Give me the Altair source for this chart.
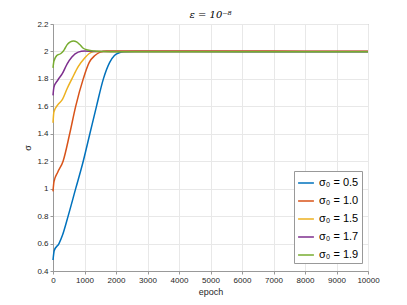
import altair as alt
import pandas as pd

labels = ["σ₀ = 0.5", "σ₀ = 1.0", "σ₀ = 1.5", "σ₀ = 1.7", "σ₀ = 1.9"]
colors = ["#0072BD", "#D95319", "#EDB120", "#7E2F8E", "#77AC30"]

blue_x = [0, 40, 190, 300, 480, 720, 960, 1170, 1380, 1600, 1800, 1950, 2100, 2250, 2600, 4000, 6000, 8000, 10000]
blue_y = [0.48, 0.55, 0.60, 0.66, 0.80, 1.00, 1.20, 1.40, 1.60, 1.80, 1.92, 1.97, 1.99, 1.998, 2.0, 1.999, 1.998, 1.998, 1.998]

orange_x = [0, 30, 150, 320, 530, 720, 960, 1150, 1330, 1500, 1700, 2000, 4000, 6000, 8000, 10000]
orange_y = [0.98, 1.05, 1.12, 1.20, 1.40, 1.60, 1.80, 1.92, 1.97, 1.995, 2.003, 2.004, 2.003, 2.003, 2.002, 2.002]

yellow_x = [0, 30, 150, 300, 450, 600, 800, 1000, 1150, 1300, 1500, 3000, 6000, 10000]
yellow_y = [1.48, 1.56, 1.61, 1.65, 1.73, 1.80, 1.89, 1.95, 1.985, 2.0, 2.0, 2.0, 1.999, 1.999]

purple_x = [0, 30, 150, 300, 450, 600, 800, 1000, 1300, 2000, 5000, 10000]
purple_y = [1.68, 1.74, 1.79, 1.84, 1.91, 1.96, 1.995, 2.003, 2.0, 2.0, 1.999, 1.999]

green_x = [0, 30, 120, 250, 350, 450, 550, 650, 750, 850, 950, 1100, 1300, 1600, 2000, 5000, 10000]
green_y = [1.88, 1.93, 1.97, 1.985, 2.01, 2.05, 2.07, 2.077, 2.07, 2.05, 2.025, 2.01, 2.003, 2.0, 1.998, 1.997, 1.997]

series = [(blue_x, blue_y), (orange_x, orange_y), (yellow_x, yellow_y), (purple_x, purple_y), (green_x, green_y)]

rows = []
for lab, (xs, ys) in zip(labels, series):
    for x, y in zip(xs, ys):
        rows.append({"epoch": x, "sigma": y, "series": lab})
df = pd.DataFrame(rows)

font = "Liberation Sans"

chart = alt.Chart(df).mark_line(strokeWidth=1.5, interpolate="monotone").encode(
    x=alt.X("epoch:Q", scale=alt.Scale(domain=[0, 10000], nice=False),
            axis=alt.Axis(title="epoch", values=list(range(0, 10001, 1000)), format="d",
                          labelFlush=False, titleFontSize=9, titleFontWeight="normal", titlePadding=3)),
    y=alt.Y("sigma:Q", scale=alt.Scale(domain=[0.4, 2.2], nice=False, zero=False),
            axis=alt.Axis(title="σ", values=[0.4, 0.6, 0.8, 1.0, 1.2, 1.4, 1.6, 1.8, 2.0, 2.2],
                          format="~g", labelFlush=False, titleFontSize=9, titleFontWeight="normal",
                          titlePadding=4)),
    color=alt.Color("series:N", scale=alt.Scale(domain=labels, range=colors),
                    sort=labels,
                    legend=alt.Legend(title=None, orient="none", legendX=241, legendY=147,
                                      symbolType="stroke", symbolSize=250, symbolStrokeWidth=1.5,
                                      labelFontSize=11, labelFont=font, labelColor="#000000",
                                      labelOffset=4, rowPadding=4, padding=3, fillColor="white",
                                      strokeColor="#999999", labelLimit=100)),
).properties(
    width=315, height=247,
    title=alt.TitleParams("ε = 10⁻⁸", font="DejaVu Serif", fontSize=10,
                          fontWeight="normal", fontStyle="italic", color="#000000",
                          offset=0),
    autosize="none",
    padding={"left": 45, "top": 16, "right": 31, "bottom": 26},
).configure_axis(
    labelFont=font, titleFont=font, labelFontSize=8, labelColor="#262626",
    titleColor="#262626", gridColor="#e8e8e8", domainColor="#999999",
    tickColor="#999999", tickSize=3, labelPadding=2,
).configure_view(stroke="#999999", strokeWidth=1)

chart.save("out.html", embed_options={"renderer": "svg", "actions": False})
